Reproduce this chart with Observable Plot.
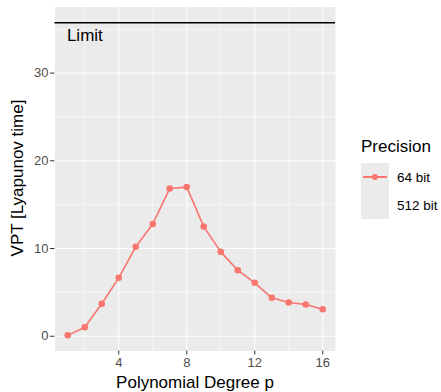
<!DOCTYPE html>
<html><head><meta charset="utf-8">
<script src="https://cdn.jsdelivr.net/npm/d3@7"></script>
<script src="https://cdn.jsdelivr.net/npm/@observablehq/plot@0.6"></script>
<style>
body{margin:0;background:white;}
#wrap{position:relative;width:441px;height:392px;font-family:"Liberation Sans",Arial,sans-serif;overflow:hidden;}
.t{position:absolute;white-space:nowrap;color:#000;}
#ytitle{left:18px;top:178px;transform:translate(-50%,-50%) rotate(-90deg);font-size:17px;}
#xtitle{left:195px;top:383px;transform:translate(-50%,-50%);font-size:17px;}
#legend{position:absolute;left:361px;top:137px;}
#legtitle{font-size:17px;line-height:19px;margin-bottom:7px;}
.row{display:flex;align-items:center;height:28px;}
.key{width:28px;height:28px;background:#EBEBEB;position:relative;}
.key .ln{position:absolute;left:2px;right:2px;top:13.2px;height:1.6px;}
.key .pt{position:absolute;left:10.8px;top:10.8px;width:6.4px;height:6.4px;border-radius:50%;}
.lab{font-size:13.5px;margin-left:8px;}
</style></head><body><div id="wrap"></div>
<script>
const degrees = [1,2,3,4,5,6,7,8,9,10,11,12,13,14,15,16];
const vpt64 = [0.1,1.03,3.7,6.66,10.2,12.8,16.85,17.0,12.5,9.62,7.53,6.09,4.38,3.84,3.62,3.08];
const seriesNames = ["64 bit","512 bit"];
const seriesColors = ["#F8766D", "transparent"];
const limitValue = 35.75;
const limitLabel = "Limit";
const limitLabelPos = {x: 0.95, y: 34.3};
const xTicks = [4,8,12,16];
const xMinor = [2,6,10,14];
const yTicks = [0,10,20,30];
const yMinor = [5,15,25,35];
const xTitle = "Polynomial Degree p";
const yTitle = "VPT [Lyapunov time]";
const legendTitle = "Precision";

const rows = degrees.map((d,i)=>({p:d, vpt:vpt64[i], prec:seriesNames[0]}));

function expand(ext){const r=ext[1]-ext[0];return [ext[0]-0.05*r, ext[1]+0.05*r];}
const xDom = expand(d3.extent(degrees));
const yDom = expand(d3.extent([...vpt64, limitValue]));

const chart = Plot.plot({
  width: 441, height: 392,
  marginLeft: 54.5, marginRight: 106, marginTop: 6.5, marginBottom: 41.5,
  style: {fontFamily: '"Liberation Sans", Arial, sans-serif', fontSize: "13px", background: "transparent", overflow: "visible"},
  x: {domain: xDom},
  y: {domain: yDom},
  marks: [
    Plot.frame({fill: "#EBEBEB", stroke: null}),
    Plot.ruleX(xMinor, {stroke: "white", strokeWidth: 0.55}),
    Plot.ruleY(yMinor, {stroke: "white", strokeWidth: 0.55}),
    Plot.ruleX(xTicks, {stroke: "white", strokeWidth: 1.1}),
    Plot.ruleY(yTicks, {stroke: "white", strokeWidth: 1.1}),
    Plot.ruleY([limitValue], {stroke: "black", strokeWidth: 1.5}),
    Plot.text([{...limitLabelPos, t: limitLabel}], {x: "x", y: "y", text: "t", textAnchor: "start", fontSize: 17, fill: "black"}),
    Plot.line(rows, {x: "p", y: "vpt", stroke: seriesColors[0], strokeWidth: 1.6}),
    Plot.dot(rows, {x: "p", y: "vpt", fill: seriesColors[0], r: 3.3, stroke: null}),
    Plot.axisX({ticks: xTicks, tickSize: 4, tickPadding: 2.5, stroke: "#333", fill: "#4D4D4D", label: null, fontSize: 13}),
    Plot.axisY({ticks: yTicks, tickSize: 4.5, tickPadding: 2, stroke: "#333", fill: "#4D4D4D", label: null, fontSize: 13})
  ]
});
const wrap = document.getElementById("wrap");
wrap.appendChild(chart);

function addText(id, txt){const d=document.createElement("div");d.className="t";d.id=id;d.textContent=txt;wrap.appendChild(d);}
addText("xtitle", xTitle);
addText("ytitle", yTitle);

const leg = document.createElement("div"); leg.id="legend";
const lt = document.createElement("div"); lt.id="legtitle"; lt.textContent = legendTitle; leg.appendChild(lt);
seriesNames.forEach((n,i)=>{
  const row=document.createElement("div"); row.className="row";
  const key=document.createElement("div"); key.className="key";
  const ln=document.createElement("div"); ln.className="ln"; ln.style.background=seriesColors[i];
  const pt=document.createElement("div"); pt.className="pt"; pt.style.background=seriesColors[i];
  key.appendChild(ln); key.appendChild(pt);
  const lab=document.createElement("div"); lab.className="lab"; lab.textContent=n;
  row.appendChild(key); row.appendChild(lab); leg.appendChild(row);
});
wrap.appendChild(leg);
</script></body></html>
